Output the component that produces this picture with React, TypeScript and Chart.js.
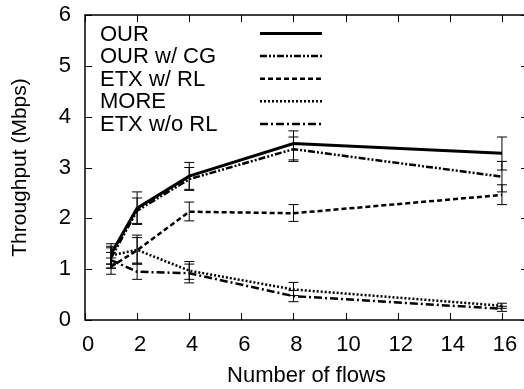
import React, { useEffect, useRef } from "react";
import { Chart, registerables } from "chart.js";

Chart.register(...registerables);

const flows = [1, 2, 4, 8, 16];
const seriesNames = ["OUR", "OUR w/ CG", "ETX w/ RL", "MORE", "ETX w/o RL"];

const ourVals = [1.3, 2.2, 2.83, 3.47, 3.28];
const ourLow = [1.1, 1.88, 2.57, 3.15, 2.95];
const ourHigh = [1.5, 2.52, 3.1, 3.72, 3.6];

const cgVals = [1.22, 2.15, 2.77, 3.36, 2.82];
const cgLow = [1.02, 1.9, 2.55, 3.12, 2.52];
const cgHigh = [1.42, 2.4, 3.0, 3.6, 3.12];

const etxRlVals = [1.05, 1.37, 2.13, 2.1, 2.46];
const etxRlLow = [0.9, 1.12, 1.95, 1.94, 2.27];
const etxRlHigh = [1.22, 1.62, 2.32, 2.27, 2.66];

const moreVals = [1.27, 1.38, 0.97, 0.6, 0.28];
const moreLow = [1.1, 1.1, 0.8, 0.48, 0.23];
const moreHigh = [1.45, 1.67, 1.15, 0.74, 0.33];

const etxNoVals = [1.18, 0.95, 0.92, 0.47, 0.22];
const etxNoLow = [1.02, 0.8, 0.73, 0.36, 0.17];
const etxNoHigh = [1.33, 1.1, 1.1, 0.58, 0.27];

const xTicks = [0, 2, 4, 6, 8, 10, 12, 14, 16];
const yTicks = [0, 1, 2, 3, 4, 5, 6];

const FONT = "'Liberation Sans', Arial, sans-serif";

const styles = [
  { width: 3, dash: [] as number[] },
  { width: 2.5, dash: [7, 2, 2, 2, 2, 2] },
  { width: 2.5, dash: [5, 3] },
  { width: 2.5, dash: [2, 2] },
  { width: 2.5, dash: [8, 3, 2, 3] },
];

const values = [ourVals, cgVals, etxRlVals, moreVals, etxNoVals];
const lows = [ourLow, cgLow, etxRlLow, moreLow, etxNoLow];
const highs = [ourHigh, cgHigh, etxRlHigh, moreHigh, etxNoHigh];

const framePlugin = {
  id: "frame",
  afterDatasetsDraw(chart: any) {
    const { ctx, chartArea } = chart;
    const xs = chart.scales.x;
    const ys = chart.scales.y;
    ctx.save();
    // error bars
    ctx.strokeStyle = "#000";
    ctx.lineWidth = 1;
    ctx.setLineDash([]);
    chart.data.datasets.forEach((ds: any, di: number) => {
      flows.forEach((f, i) => {
        const px = xs.getPixelForValue(f);
        const yl = ys.getPixelForValue(lows[di][i]);
        const yh = ys.getPixelForValue(highs[di][i]);
        ctx.beginPath();
        ctx.moveTo(px, yl);
        ctx.lineTo(px, yh);
        ctx.moveTo(px - 5, yl);
        ctx.lineTo(px + 5, yl);
        ctx.moveTo(px - 5, yh);
        ctx.lineTo(px + 5, yh);
        ctx.stroke();
      });
    });
    // border
    ctx.lineWidth = 1.5;
    ctx.strokeRect(chartArea.left, chartArea.top, chartArea.right - chartArea.left, chartArea.bottom - chartArea.top);
    // ticks
    ctx.lineWidth = 1;
    const tl = 7;
    xTicks.forEach((t) => {
      const px = Math.round(xs.getPixelForValue(t)) + 0.5;
      ctx.beginPath();
      ctx.moveTo(px, chartArea.bottom);
      ctx.lineTo(px, chartArea.bottom - tl);
      ctx.moveTo(px, chartArea.top);
      ctx.lineTo(px, chartArea.top + tl);
      ctx.stroke();
    });
    yTicks.forEach((t) => {
      const py = Math.round(ys.getPixelForValue(t)) + 0.5;
      ctx.beginPath();
      ctx.moveTo(chartArea.left, py);
      ctx.lineTo(chartArea.left + tl, py);
      ctx.moveTo(chartArea.right, py);
      ctx.lineTo(chartArea.right - tl, py);
      ctx.stroke();
    });
    // legend
    ctx.font = `22px ${FONT}`;
    ctx.fillStyle = "#000";
    ctx.textBaseline = "middle";
    ctx.textAlign = "left";
    seriesNames.forEach((name, i) => {
      const y = chartArea.top + 18.5 + i * 22.6;
      ctx.fillText(name, chartArea.left + 15, y + 1);
      ctx.beginPath();
      ctx.lineWidth = styles[i].width;
      ctx.setLineDash(styles[i].dash);
      ctx.moveTo(chartArea.left + 175, y);
      ctx.lineTo(chartArea.left + 237, y);
      ctx.stroke();
    });
    ctx.restore();
  },
};

export default function App() {
  const ref = useRef<HTMLCanvasElement>(null);
  useEffect(() => {
    document.body.style.margin = "0";
    document.body.style.overflow = "hidden";
    const chart = new Chart(ref.current!, {
      type: "line",
      data: {
        datasets: seriesNames.map((name, i) => ({
          label: name,
          data: flows.map((f, j) => ({ x: f, y: values[i][j] })),
          borderColor: "#000",
          borderWidth: styles[i].width,
          borderDash: styles[i].dash,
          pointRadius: 0,
          fill: false,
          tension: 0,
        })),
      },
      options: {
        animation: false,
        responsive: false,
        layout: { padding: { left: 0, top: 15, right: 2, bottom: 0 } },
        plugins: { legend: { display: false }, tooltip: { enabled: false } },
        scales: {
          x: {
            type: "linear",
            min: 0,
            max: 17,
            afterBuildTicks: (s: any) => {
              s.ticks = xTicks.map((v) => ({ value: v }));
            },
            afterFit: (s: any) => {
              s.height = 69;
              s.paddingLeft = 0;
              s.paddingRight = 0;
            },
            grid: { display: false, drawTicks: false },
            border: { display: false },
            ticks: {
              color: "#000",
              font: { family: FONT, size: 22 },
              padding: 12,
              labelOffset: 3,
              maxRotation: 0,
              autoSkip: false,
            },
            title: {
              display: true,
              text: "Number of flows",
              color: "#000",
              font: { family: FONT, size: 22 },
              padding: { top: 0, bottom: 0 },
            },
          },
          y: {
            type: "linear",
            min: 0,
            max: 6,
            afterBuildTicks: (s: any) => {
              s.ticks = yTicks.map((v) => ({ value: v }));
            },
            afterFit: (s: any) => {
              s.width = 85;
              s.paddingTop = 0;
              s.paddingBottom = 0;
            },
            grid: { display: false, drawTicks: false },
            border: { display: false },
            ticks: {
              color: "#000",
              font: { family: FONT, size: 22 },
              padding: 14,
              autoSkip: false,
            },
            title: {
              display: true,
              text: "Throughput (Mbps)",
              color: "#000",
              font: { family: FONT, size: 21 },
              padding: { top: 8, bottom: 0 },
            },
          },
        },
      },
      plugins: [framePlugin],
    });
    return () => chart.destroy();
  }, []);
  return (
    <div style={{ position: "fixed", left: 0, top: 0, width: 524, height: 389, overflow: "hidden" }}>
      <canvas ref={ref} width={530} height={389} style={{ display: "block", width: 530, height: 389 }} />
    </div>
  );
}
